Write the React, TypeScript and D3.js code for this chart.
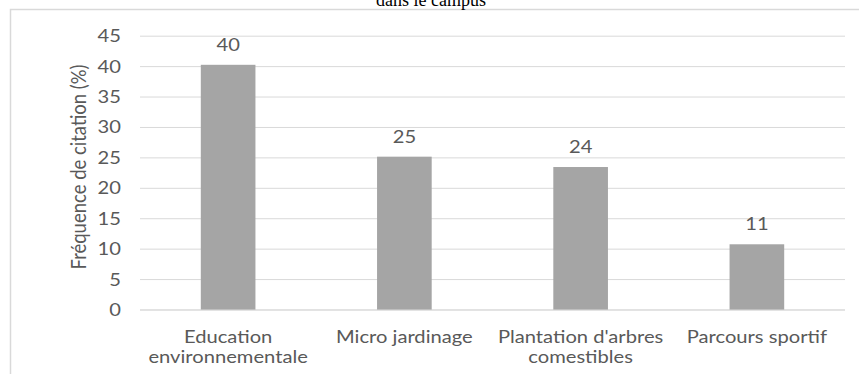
import React from "react";
import * as d3 from "d3";

const categories = [
  "Education environnementale",
  "Micro jardinage",
  "Plantation d'arbres comestibles",
  "Parcours sportif",
];
const categoryLines = [
  ["Education", "environnementale"],
  ["Micro jardinage"],
  ["Plantation d'arbres", "comestibles"],
  ["Parcours sportif"],
];
const values = [40.3, 25.2, 23.5, 10.8];
const valueLabels = ["40", "25", "24", "11"];
const yTicks = [0, 5, 10, 15, 20, 25, 30, 35, 40, 45];
const yTitle = "Fréquence de citation (%)";
const chartTitle = "dans le campus";

const W = 859;
const H = 374;
const SX = 1.12;
const FS = 18;
const FONT = "Lato, 'Open Sans', sans-serif";
const TEXT = "#595959";

export default function App() {
  const x = d3
    .scaleBand<string>()
    .domain(categories)
    .range([140, 845])
    .paddingInner(0.69)
    .paddingOuter(0.345);
  const y = d3.scaleLinear().domain([0, 45]).range([310, 36.2]);

  const st = (tx: number, ty: number, extra = "") =>
    `translate(${tx},${ty}) scale(${SX},1)${extra}`;

  return (
    <svg
      width={W}
      height={H}
      style={{ position: "absolute", left: 0, top: 0, display: "block", background: "#fff" }}
    >
      <rect x={0} y={0} width={W} height={H} fill="#fff" />
      <path d={`M10.5,${H} V9.5 H${W}`} fill="none" stroke="#D9D9D9" strokeWidth={1.5} />
      <text
        x={431}
        y={5.5}
        textAnchor="middle"
        fontFamily="'Liberation Serif', 'Times New Roman', serif"
        fontSize={18}
        fill="#000"
      >
        {chartTitle}
      </text>
      {yTicks.map((t) => (
        <g key={t}>
          <line x1={140} x2={845} y1={y(t)} y2={y(t)} stroke="#D9D9D9" strokeWidth={1} />
          <text
            transform={st(121, y(t) + 6)}
            textAnchor="end"
            fontFamily={FONT}
            fontSize={FS}
            fill={TEXT}
          >
            {t}
          </text>
        </g>
      ))}
      {categories.map((c, i) => (
        <g key={c}>
          <rect
            x={x(c)}
            y={y(values[i])}
            width={x.bandwidth()}
            height={y(0) - y(values[i])}
            fill="#A5A5A5"
          />
          <text
            transform={st((x(c) as number) + x.bandwidth() / 2, y(values[i]) - 14)}
            textAnchor="middle"
            fontFamily={FONT}
            fontSize={FS}
            fill={TEXT}
          >
            {valueLabels[i]}
          </text>
          {categoryLines[i].map((ln, j) => (
            <text
              key={j}
              transform={st((x(c) as number) + x.bandwidth() / 2, 343 + j * 20)}
              textAnchor="middle"
              fontFamily={FONT}
              fontSize={FS}
              fill={TEXT}
            >
              {ln}
            </text>
          ))}
        </g>
      ))}
      <line x1={140} x2={845} y1={y(0)} y2={y(0)} stroke="#D9D9D9" strokeWidth={1} />
      <text
        transform={`translate(86,167) scale(${SX},1) rotate(-90)`}
        textAnchor="middle"
        fontFamily={FONT}
        fontSize={18.5}
        fill={TEXT}
      >
        {yTitle}
      </text>
    </svg>
  );
}
